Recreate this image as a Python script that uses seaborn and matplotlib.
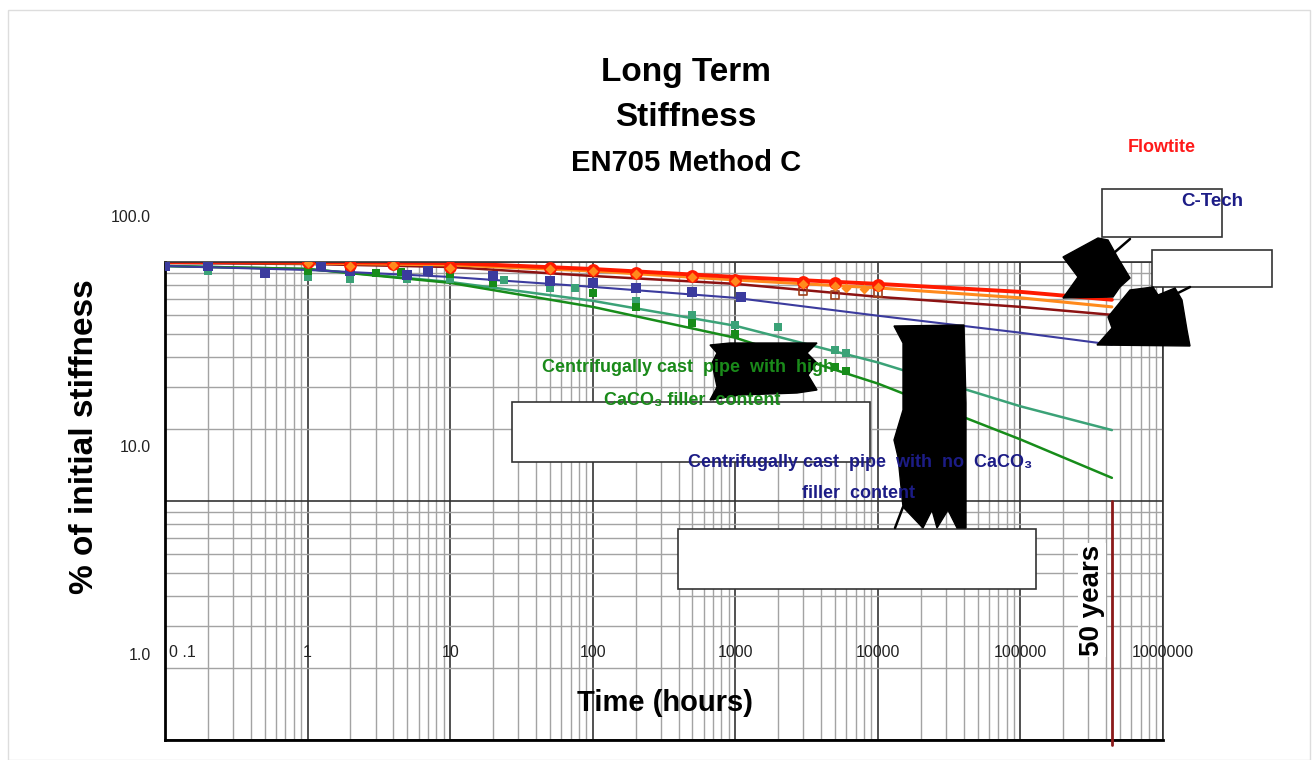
import numpy as np
import pandas as pd
import matplotlib
matplotlib.use("Agg")
import matplotlib.pyplot as plt
import matplotlib.transforms as mtransforms
from matplotlib.patches import Polygon, Rectangle
from matplotlib.lines import Line2D
from matplotlib.ticker import LogLocator, NullFormatter
from matplotlib import font_manager
import seaborn as sns

# ---------------- data ----------------
fit_hours = [0.1, 1, 10, 100, 1000, 10000, 100000, 438000]
fit_flowtite_red = [100.0, 100.0, 99.0, 93.5, 86.6, 81.0, 75.0, 69.5]
fit_flowtite_orange = [100.0, 99.0, 97.2, 91.7, 84.1, 77.9, 70.8, 64.9]
fit_flowtite_darkred = [99.0, 98.1, 95.3, 87.4, 81.0, 71.5, 64.9, 60.1]
fit_ctech_blue = [96.2, 92.6, 86.6, 78.7, 70.8, 59.6, 50.6, 45.1]
fit_noCaCO3_seagreen = [96.2, 93.5, 82.5, 68.8, 54.1, 38.0, 24.9, 19.8]
fit_highCaCO3_green = [96.2, 93.5, 81.8, 64.9, 48.2, 31.0, 18.1, 12.5]

red_hours = [1, 2, 4, 10, 50, 100, 200, 500, 1000, 3000, 5000, 10000]
red_values = [100.0, 97.2, 98.1, 95.3, 94.4, 92.6, 90.0, 87.4, 84.1, 82.5, 81.8, 80.2]
orange_hours = [1, 2, 4, 10, 50, 100, 200, 500, 1000, 3000, 5000, 6000, 8000, 10000]
orange_values = [99.0, 96.5, 97.0, 94.5, 93.5, 91.7, 89.5, 86.6, 83.3, 81.0, 79.4, 77.9, 77.2, 78.7]
darkred_hours = [3000, 5000, 10000]
darkred_values = [75.7, 72.9, 74.3]
blue_hours = [0.1, 0.2, 0.5, 1.25, 2, 5, 7, 20, 50, 100, 200, 500, 1100]
blue_values = [96.2, 96.2, 90.0, 96.2, 91.7, 88.3, 91.7, 87.4, 83.3, 81.8, 77.9, 75.0, 71.5]
green_hours = [1, 3, 4.5, 10, 20, 100, 200, 500, 1000, 5000, 6000]
green_values = [91.7, 90.0, 90.8, 89.1, 81.8, 74.3, 64.9, 55.7, 50.1, 36.2, 35.1]
seagreen_hours = [0.2, 1, 2, 5, 10, 24, 50, 75, 200, 500, 1000, 2000, 5000, 6000]
seagreen_values = [91.7, 86.6, 84.9, 84.9, 84.9, 84.1, 77.9, 77.9, 68.8, 60.1, 54.6, 53.6, 43.0, 41.8]

fifty_years_hours = 438000
fifty_years_span = [10, 0.95]

x_ticks = [0.1, 1, 10, 100, 1000, 10000, 100000, 1000000]
x_tick_labels = ["0 .1", "1", "10", "100", "1000", "10000", "100000", "1000000"]
y_tick_labels = ["100.0", "10.0", "1.0"]

# ---------------- styling ----------------
sns.set_theme(style="white")
names = {f.name for f in font_manager.fontManager.ttflist}
NARROW = "Liberation Sans Narrow" if "Liberation Sans Narrow" in names else "Liberation Sans"
SANS = "Liberation Sans"
plt.rcParams["font.family"] = [SANS, "DejaVu Sans"]
plt.rcParams["text.color"] = "black"

W, H = 1314, 760
def fx(px):
    return px / W
def fy(py):
    return 1 - py / H

fig = plt.figure(figsize=(W / 100, H / 100), dpi=100)
fig.patch.set_facecolor("white")
ax = fig.add_axes([fx(165), fy(740), (1163 - 165) / W, (740 - 262) / H])

C_RED = "#ff1a00"
C_ORANGE = "#ff8a1c"
C_DARKRED = "#8c1212"
C_BLUE = "#3b3b9e"
C_GREEN = "#178c1a"
C_SEA = "#3ba277"

# fitted lines
sns.lineplot(x=fit_hours, y=fit_noCaCO3_seagreen, ax=ax, color=C_SEA, linewidth=1.8)
sns.lineplot(x=fit_hours, y=fit_highCaCO3_green, ax=ax, color=C_GREEN, linewidth=1.8)
sns.lineplot(x=fit_hours, y=fit_ctech_blue, ax=ax, color=C_BLUE, linewidth=1.5)
sns.lineplot(x=fit_hours, y=fit_flowtite_darkred, ax=ax, color=C_DARKRED, linewidth=1.8)
sns.lineplot(x=fit_hours, y=fit_flowtite_orange, ax=ax, color=C_ORANGE, linewidth=2.2)
sns.lineplot(x=fit_hours, y=fit_flowtite_red, ax=ax, color=C_RED, linewidth=2.8)

# measured points
sns.scatterplot(x=seagreen_hours, y=seagreen_values, ax=ax, color=C_SEA, marker="s", s=30, linewidth=0, zorder=5)
sns.scatterplot(x=green_hours, y=green_values, ax=ax, color=C_GREEN, marker="s", s=30, linewidth=0, zorder=5)
sns.scatterplot(x=blue_hours, y=blue_values, ax=ax, color=C_BLUE, marker="s", s=42, linewidth=0, zorder=5)
sns.scatterplot(x=darkred_hours, y=darkred_values, ax=ax, marker="s", s=32, facecolor="none",
                edgecolor="#a0401a", linewidth=1.2, zorder=5)
sns.scatterplot(x=red_hours, y=red_values, ax=ax, color=C_RED, marker="o", s=85, linewidth=0, zorder=6)
sns.scatterplot(x=orange_hours, y=orange_values, ax=ax, color=C_ORANGE, marker="D", s=26, linewidth=0, zorder=7)

ax.set_xscale("log")
ax.set_yscale("log")
ax.set_xlim(0.1, 1e6)
ax.set_ylim(1, 100)
ax.xaxis.set_major_locator(LogLocator(base=10, numticks=30))
ax.yaxis.set_major_locator(LogLocator(base=10, numticks=30))
ax.xaxis.set_minor_locator(LogLocator(base=10, subs=np.arange(2, 10), numticks=100))
ax.yaxis.set_minor_locator(LogLocator(base=10, subs=np.arange(2, 10), numticks=100))
ax.xaxis.set_minor_formatter(NullFormatter())
ax.yaxis.set_minor_formatter(NullFormatter())
ax.tick_params(which="both", length=0, labelbottom=False, labelleft=False)
ax.grid(which="minor", color="#a3a3a3", linewidth=1.0)
ax.grid(which="major", color="#333333", linewidth=1.2)
ax.set_axisbelow(True)
ax.set_xlabel("")
ax.set_ylabel("")
for side in ["left", "bottom"]:
    ax.spines[side].set_color("black")
    ax.spines[side].set_linewidth(2.0)
for side in ["top", "right"]:
    ax.spines[side].set_color("#333333")
    ax.spines[side].set_linewidth(1.2)

# x tick labels drawn inside the plot area
blend = mtransforms.blended_transform_factory(ax.transData, ax.transAxes)
for i, (xv, lab) in enumerate(zip(x_ticks, x_tick_labels)):
    ax.text(xv * (1.07 if i == 0 else 1.0), 0.184, lab, transform=blend,
            ha="left" if i == 0 else "center", va="center", fontsize=11.5,
            family=[NARROW, "DejaVu Sans"], color="#222222", zorder=9)

# y tick labels (placed as in the original)
for lab, ypx in zip(y_tick_labels, [217, 447, 655]):
    fig.text(fx(151), fy(ypx), lab, ha="right", va="center", fontsize=11.5,
             family=[NARROW, "DejaVu Sans"], color="#222222")

# titles
fig.text(fx(686), fy(72), "Long Term", ha="center", va="center", fontsize=24, fontweight="bold",
         family=[NARROW, "DejaVu Sans"])
fig.text(fx(686), fy(117), "Stiffness", ha="center", va="center", fontsize=24, fontweight="bold",
         family=[NARROW, "DejaVu Sans"])
fig.text(fx(686), fy(163), "EN705 Method C", ha="center", va="center", fontsize=21, fontweight="bold",
         family=[NARROW, "DejaVu Sans"])
fig.text(fx(665), fy(703), "Time (hours)", ha="center", va="center", fontsize=21, fontweight="bold",
         family=[NARROW, "DejaVu Sans"])
fig.text(fx(85), fy(437), "% of initial stiffness", ha="center", va="center", rotation=90,
         fontsize=24, fontweight="bold")

# white callout boxes
for (x0, y0, x1, y1) in [(1102, 189, 1222, 237), (1152, 250, 1272, 287),
                         (512, 402, 870, 462), (678, 529, 1036, 589)]:
    fig.add_artist(Rectangle((fx(x0), fy(y1)), (x1 - x0) / W, (y1 - y0) / H,
                             transform=fig.transFigure, facecolor="white",
                             edgecolor="#333333", linewidth=1.2, zorder=2))

# black callout pointers (rendered as solid shapes in the original)
shapes = [
    [(710, 345), (730, 343), (817, 343), (807, 353), (817, 363), (808, 375), (817, 390),
     (797, 393), (740, 395), (710, 400), (717, 387), (712, 363), (717, 353)],
    [(894, 326), (964, 325), (966, 403), (966, 528), (957, 528), (948, 510), (937, 528),
     (932, 510), (923, 528), (903, 507), (898, 457), (894, 440), (903, 410), (903, 343)],
    [(1063, 257), (1098, 238), (1108, 240), (1118, 258), (1130, 278), (1120, 287),
     (1113, 297), (1063, 298), (1078, 277)],
    [(1097, 345), (1112, 328), (1108, 317), (1130, 290), (1153, 287), (1158, 295),
     (1175, 288), (1182, 300), (1187, 330), (1190, 346)],
]
for pts in shapes:
    fig.add_artist(Polygon([(fx(a), fy(b)) for a, b in pts], closed=True,
                           transform=fig.transFigure, facecolor="black",
                           edgecolor="black", zorder=2.5))
for (a0, b0, a1, b1) in [(895, 528, 903, 507), (1115, 252, 1130, 239), (1178, 293, 1190, 287)]:
    fig.add_artist(Line2D([fx(a0), fx(a1)], [fy(b0), fy(b1)], transform=fig.transFigure,
                          color="black", linewidth=1.8, zorder=2.5))

# annotations
fig.text(fx(1162), fy(147), "Flowtite", ha="center", va="center", fontsize=13, fontweight="bold",
         color="#ff1a1a", zorder=4)
fig.text(fx(1212), fy(202), "C-Tech", ha="center", va="center", fontsize=13.5, fontweight="bold",
         color="#1c1c86", zorder=4)
fig.text(fx(688), fy(368), "Centrifugally cast  pipe  with  high", ha="center", va="center",
         fontsize=13, fontweight="bold", color="#1a8a1a", family=[NARROW, "DejaVu Sans"], zorder=4)
fig.text(fx(692), fy(400), "CaCO₃ filler  content", ha="center", va="center",
         fontsize=13, fontweight="bold", color="#1a8a1a", family=[NARROW, "DejaVu Sans"], zorder=4)
fig.text(fx(860), fy(463), "Centrifugally cast  pipe  with  no  CaCO₃", ha="center", va="center",
         fontsize=13, fontweight="bold", color="#1c1c86", family=[NARROW, "DejaVu Sans"], zorder=4)
fig.text(fx(858), fy(494), "filler  content", ha="center", va="center",
         fontsize=13, fontweight="bold", color="#1c1c86", family=[NARROW, "DejaVu Sans"], zorder=4)
fig.text(fx(1092), fy(600), "50 years", ha="center", va="center", rotation=90, fontsize=20,
         fontweight="bold", color="black", zorder=4,
         bbox=dict(facecolor="white", edgecolor="none", pad=1))

# 50-year marker line, drawn above the label box
blend_xy = mtransforms.blended_transform_factory(ax.transData, ax.transData)
fig.add_artist(Line2D([fifty_years_hours, fifty_years_hours], fifty_years_span,
                      transform=blend_xy, color="#8b1a1a", linewidth=2.0, zorder=5))

# faint slide frame
fig.add_artist(Rectangle((fx(8), 0), (1310 - 8) / W, (760 - 10) / H, transform=fig.transFigure,
                         facecolor="none", edgecolor="#dddddd", linewidth=1.0, zorder=0))

fig.savefig("out.png", dpi=100)
